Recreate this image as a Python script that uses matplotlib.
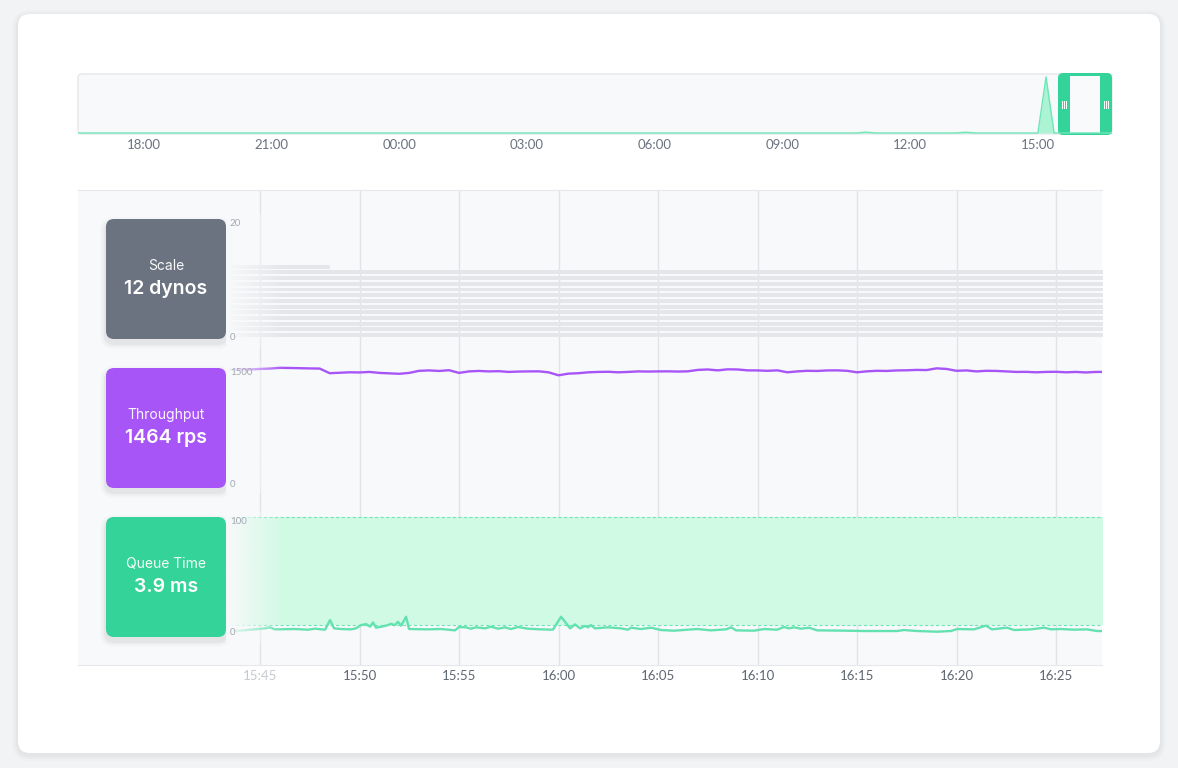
import numpy as np
import matplotlib
matplotlib.use("Agg")
import matplotlib.pyplot as plt
from matplotlib.patches import FancyBboxPatch, Rectangle
from matplotlib.transforms import blended_transform_factory

plt.rcParams["font.family"] = ["Lato", "DejaVu Sans"]

# ---- data -------------------------------------------------------------
# overview (24 h), hours after 18:00 of the previous day, queue time in ms
ov_hours = [-1.6, 16.75, 16.95, 17.2, 19.05, 19.3, 19.55, 21.0, 21.19, 21.38, 22.8]
ov_values = [0, 0, 30, 0, 0, 25, 0, 0, 1950, 0, 0]
ov_ticks = [0, 3, 6, 9, 12, 15, 18, 21]
ov_labels = ["18:00", "21:00", "00:00", "03:00", "06:00", "09:00", "12:00", "15:00"]

# detail window, minutes after 15:00
main_ticks = [45, 50, 55, 60, 65, 70, 75, 80, 85]
main_labels = ["15:45", "15:50", "15:55", "16:00", "16:05", "16:10", "16:15", "16:20", "16:25"]

dyno_times = [43.5, 48.5, 87.5]
dyno_counts = [13, 12, 12]

tp_times = np.arange(43.5, 88.0, 0.5)
tp_values = [1535, 1540, 1538, 1545, 1550, 1560, 1558, 1555, 1552, 1550,
             1488, 1494, 1500, 1498, 1505, 1492, 1486, 1480, 1492, 1520,
             1525, 1518, 1528, 1492, 1512, 1518, 1512, 1515, 1505, 1510,
             1512, 1513, 1500, 1460, 1482, 1488, 1500, 1505, 1507, 1500,
             1505, 1512, 1510, 1512, 1513, 1510, 1513, 1532, 1538, 1526,
             1540, 1538, 1526, 1525, 1520, 1526, 1500, 1512, 1520, 1518,
             1525, 1526, 1520, 1500, 1513, 1520, 1518, 1525, 1527, 1532,
             1530, 1553, 1545, 1520, 1525, 1512, 1520, 1518, 1512, 1505,
             1506, 1500, 1505, 1507, 1500, 1505, 1498, 1505, 1505]

q_times = [43.74, 44.90, 45.25, 45.50, 45.75, 46.76, 47.41, 47.76, 48.27, 48.52,
           48.72, 49.07, 49.57, 49.82, 50.08, 50.33, 50.53, 50.68, 50.83, 51.18,
           51.43, 51.58, 51.78, 51.93, 52.09, 52.34, 52.49, 53.44, 54.10, 54.80,
           55.00, 55.35, 55.60, 55.85, 56.31, 56.61, 56.96, 57.31, 57.61, 57.96,
           58.47, 59.12, 59.72, 60.13, 60.58, 60.83, 61.08, 61.33, 61.48, 61.63,
           61.83, 62.49, 63.14, 63.49, 63.64, 64.15, 64.65, 65.15, 65.80, 66.96,
           67.66, 68.42, 68.67, 68.92, 69.82, 70.33, 70.98, 71.33, 71.58, 71.83,
           72.19, 72.59, 72.99, 74.50, 75.35, 77.01, 77.36, 78.02, 79.02, 79.72,
           80.03, 80.88, 81.48, 81.78, 82.54, 82.89, 83.74, 84.40, 84.75, 85.25,
           85.90, 86.56, 87.06, 87.46]
q_values = [1.5, 3.3, 3.9, 4.8, 3.0, 3.3, 2.7, 3.6, 2.7, 11.3,
            3.9, 3.3, 3.0, 3.9, 6.8, 7.7, 5.4, 9.2, 4.5, 5.7,
            6.8, 8.0, 6.8, 9.8, 6.3, 14.3, 3.3, 3.0, 3.3, 2.1,
            5.1, 4.8, 3.6, 4.8, 3.9, 5.4, 3.6, 4.8, 3.3, 5.1,
            3.6, 3.0, 2.7, 14.3, 3.9, 7.4, 3.9, 6.0, 4.8, 6.8,
            3.9, 4.8, 3.9, 2.7, 4.5, 3.3, 4.5, 2.4, 1.8, 3.3,
            2.1, 3.0, 4.8, 2.1, 1.8, 3.3, 2.7, 5.1, 3.9, 4.8,
            3.6, 4.5, 2.1, 1.8, 1.5, 1.5, 2.4, 1.5, 0.9, 1.5,
            3.3, 3.0, 6.3, 3.0, 4.5, 2.4, 3.0, 4.5, 3.0, 3.3,
            2.7, 3.0, 1.5, 1.5]
q_band = (6.9, 103.5)

cards = [("Scale", "12 dynos", "#6b7280"),
         ("Throughput", "1464 rps", "#a855f7"),
         ("Queue Time", "3.9 ms", "#34d399")]

# ---- layout helpers (pixels) -----------------------------------------
W, H = 1178, 768
PANEL_BG = "#f8f9fb"
T0, T1 = 45 - 182 / 19.9, 45 + 842 / 19.9


def rect(x0, y0, x1, y1):
    return [x0 / W, 1 - y1 / H, (x1 - x0) / W, (y1 - y0) / H]


fig = plt.figure(figsize=(W / 100, H / 100), dpi=100, facecolor="#f2f3f5")

bg = fig.add_axes([0, 0, 1, 1], zorder=0)
bg.set_xlim(0, W); bg.set_ylim(H, 0); bg.axis("off")
for g, a in [(6, 0.012), (4, 0.018), (2, 0.025)]:
    bg.add_patch(FancyBboxPatch((18 - g, 14 - g + 2), 1142 + 2 * g, 739 + 2 * g,
                                boxstyle=f"round,pad=0,rounding_size={12 + g}",
                                fc="black", ec="none", alpha=a))
bg.add_patch(FancyBboxPatch((18, 14), 1142, 739, boxstyle="round,pad=0,rounding_size=12",
                            fc="white", ec="none"))
bg.add_patch(FancyBboxPatch((78, 74), 1034, 60, boxstyle="round,pad=0,rounding_size=4",
                            fc=PANEL_BG, ec="#e5e7eb", lw=1))
# range selector handle
bg.add_patch(FancyBboxPatch((1058, 73), 54, 62, boxstyle="round,pad=0,rounding_size=5",
                            fc="#34d399", ec="none"))
bg.add_patch(Rectangle((1070, 76), 30, 57, fc="#f9fafb", ec="none"))
for cx in (1064, 1106):
    for dx in (-1.6, 0, 1.6):
        bg.plot([cx + dx, cx + dx], [100.5, 107.5], color="white", lw=0.7)

# ---- overview -----------------------------------------------------------
ov = fig.add_axes(rect(78, 74, 1112, 134), zorder=1)
ov.patch.set_alpha(0)
ov.fill_between(ov_hours, 0, ov_values, color="#a7f3d0", lw=0, alpha=0.95)
ov.plot(ov_hours, ov_values, color="#6ee7b7", lw=1)
ov.set_xlim(-1.55, 22.74); ov.set_ylim(-35, 2050)
ov.set_xticks(ov_ticks); ov.set_xticklabels(ov_labels)
ov.set_yticks([])
ov.tick_params(axis="x", length=0, pad=3.5, labelsize=9.5, labelcolor="#6b7280")
for s in ov.spines.values():
    s.set_visible(False)

# ---- detail grid ------------------------------------------------------
ax = fig.add_axes(rect(78, 190, 1102, 665), zorder=1)
ax.set_facecolor(PANEL_BG)
ax.set_xlim(T0, T1); ax.set_ylim(0, 1)
ax.set_xticks(main_ticks); ax.set_xticklabels(main_labels)
ax.set_yticks([])
ax.grid(axis="x", color="#e1e3e7", lw=1)
ax.tick_params(axis="x", length=0, pad=3.5, labelsize=9.5, labelcolor="#5f6672")
ax.get_xticklabels()[0].set_color("#c6cad0")
for k in ("left", "right"):
    ax.spines[k].set_visible(False)
for k in ("top", "bottom"):
    ax.spines[k].set_color("#e5e7eb")

# ---- metric cards -----------------------------------------------------
deco = fig.add_axes([0, 0, 1, 1], zorder=2)
deco.set_xlim(0, W); deco.set_ylim(H, 0); deco.axis("off"); deco.patch.set_alpha(0)
for i, (title, value, color) in enumerate(cards):
    y0 = 219 + i * 149
    for g, a in [(6, 0.015), (4, 0.025), (2, 0.04)]:
        deco.add_patch(FancyBboxPatch((106 - g, y0 - g + 4), 120 + 2 * g, 120 + 2 * g,
                                      boxstyle=f"round,pad=0,rounding_size={8 + g}",
                                      fc="black", ec="none", alpha=a))
    deco.add_patch(FancyBboxPatch((106, y0), 120, 120, boxstyle="round,pad=0,rounding_size=8",
                                  fc=color, ec="none"))
    deco.text(166, y0 + 47, title, ha="center", va="center", color="white", alpha=0.95,
              fontsize=10, family=["Inter", "DejaVu Sans"])
    deco.text(166, y0 + 70, value, ha="center", va="center", color="white",
              fontsize=14, weight="semibold", family=["Inter", "DejaVu Sans"])

# ---- metric panels ----------------------------------------------------
fade = np.zeros((1, 64, 4))
fade[..., :3] = matplotlib.colors.to_rgb(PANEL_BG)
fade[..., 3] = np.linspace(1, 0, 64)
fade_t = (45 + (226 - 260) / 19.9, 45 + (285 - 260) / 19.9)
lab_x = (230 - 78) / 1024


def panel(top_px, bot_px, v_top, v_bot, labels):
    per_px = (v_top - v_bot) / (bot_px - top_px)
    p = fig.add_axes(rect(78, top_px - 10, 1102, bot_px + 10), zorder=3)
    p.patch.set_alpha(0); p.axis("off")
    ylim = (v_bot - 10 * per_px, v_top + 10 * per_px)
    p.imshow(fade, extent=(fade_t[0], fade_t[1], ylim[0], ylim[1]), aspect="auto",
             zorder=4, interpolation="bilinear")
    tr = blended_transform_factory(p.transAxes, p.transData)
    for v, s in labels:
        p.text(lab_x, v, s, transform=tr, ha="left", va="center", fontsize=7,
               color="#a3a8b0", zorder=6)
    return p, ylim


sp, sl = panel(223.5, 337, 20, 0, [(20, "20"), (0, "0")])
for k in range(max(dyno_counts)):
    for i in range(len(dyno_times) - 1):
        if dyno_counts[i] > k:
            sp.broken_barh([(dyno_times[i], dyno_times[i + 1] - dyno_times[i])],
                           (k + 0.02, 0.7), color="#e4e6ea", lw=0, zorder=2)
sp.set_xlim(T0, T1); sp.set_ylim(*sl)

tp, tl = panel(372.3, 484.3, 1500, 0, [(1500, "1500"), (0, "0")])
tp.plot(tp_times, tp_values, color="#a855f7", lw=1.7, zorder=3)
tp.set_xlim(T0, T1); tp.set_ylim(*tl)

qp, ql = panel(521, 632.7, 100, 0, [(100, "100"), (0, "0")])
qp.fill_between([43.5, 87.5], q_band[0], q_band[1], color="#d1fae5", lw=0, zorder=1)
qp.hlines(q_band, 43.5, 87.5, colors="#6ee7b7", linestyles=(0, (3, 2)), lw=0.8, zorder=2)
qp.plot(q_times, q_values, color="#63e2b0", lw=1.7, zorder=3)
qp.set_xlim(T0, T1); qp.set_ylim(*ql)

fig.savefig("out.png", dpi=100, facecolor=fig.get_facecolor())
